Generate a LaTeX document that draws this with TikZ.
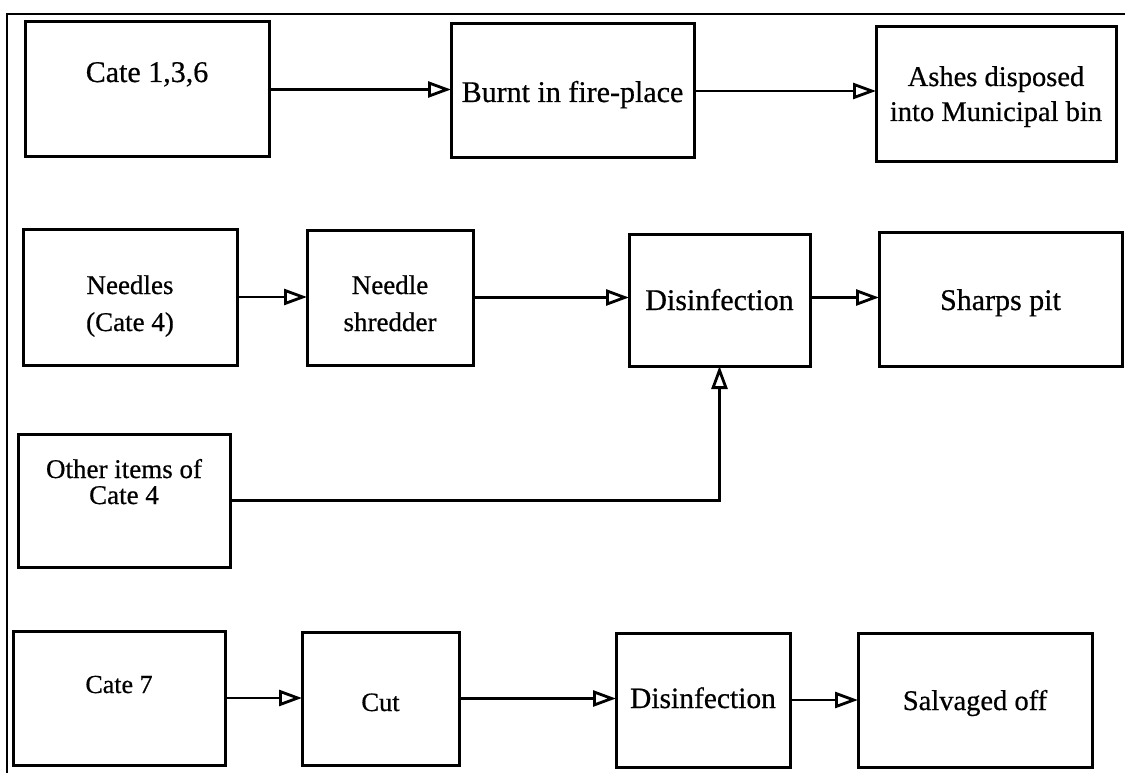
\documentclass[tikz,border=0pt]{standalone}
\usepackage{fontspec}
\setmainfont{Liberation Serif}[FakeBold=0.6]
\usetikzlibrary{arrows.meta}

\newcommand{\fs}[1]{\fontsize{#1}{#1}\selectfont}

\tikzset{
  stage/.style={draw, line width=3pt, rectangle, inner sep=0pt, outer sep=0pt},
  txt/.style={anchor=base, inner sep=0pt, align=center},
  flow/.style={line width=2.5pt, -{Triangle[open, length=23pt, width=16pt, line width=2.8pt]}},
  frameline/.style={line width=1.3pt}
}

\begin{document}
\begin{tikzpicture}[x=1pt, y=-1pt]
\useasboundingbox (0,0) rectangle (1125,773);

% outer frame (only top and left edges show)
\coordinate (frameBL) at (7,773);
\coordinate (frameTL) at (7,14);
\coordinate (frameTR) at (1125,14);
\draw[frameline] (frameBL) -- (frameTL) -- (frameTR);

% ---- row 1: categories 1,3,6
\node[stage, minimum width=244pt, minimum height=135pt] (c136) at (147,89.5) {};
\node[txt, font=\fs{30}] (c136t) at (147,82) {Cate 1,3,6};

\node[stage, minimum width=243pt, minimum height=134pt] (burnt) at (572.5,91) {};
\node[txt, font=\fs{30}] (burntt) at (572.5,102) {Burnt in fire-place};

\node[stage, minimum width=240pt, minimum height=135pt] (ashes) at (996,94.5) {};
\node[txt, font=\fs{28.5}] (ashest1) at (996,86) {Ashes disposed};
\node[txt, font=\fs{28.5}] (ashest2) at (996,121) {into Municipal bin};

% ---- row 2: needles
\node[stage, minimum width=214pt, minimum height=136pt] (needles) at (130,297) {};
\node[txt, font=\fs{27}] (needlest1) at (130,294) {Needles};
\node[txt, font=\fs{27}] (needlest2) at (130,331) {(Cate 4)};

\node[stage, minimum width=166pt, minimum height=135pt] (shred) at (390,297.5) {};
\node[txt, font=\fs{27}] (shredt1) at (390,294) {Needle};
\node[txt, font=\fs{27}] (shredt2) at (390,331) {shredder};

\node[stage, minimum width=181pt, minimum height=132pt] (dis1) at (719.5,300) {};
\node[txt, font=\fs{30}] (dis1t) at (719.5,310) {Disinfection};

\node[stage, minimum width=243pt, minimum height=134pt] (sharps) at (1000.5,299) {};
\node[txt, font=\fs{30}] (sharpst) at (1000.5,310) {Sharps pit};

% ---- row 3: other items of category 4
\node[stage, minimum width=212pt, minimum height=133pt] (other) at (124,500.5) {};
\node[txt, font=\fs{27}] (othert1) at (124,478) {Other items of};
\node[txt, font=\fs{27}] (othert2) at (124,504) {Cate 4};

% ---- row 4: category 7
\node[stage, minimum width=212pt, minimum height=134pt] (cate7) at (119,698) {};
\node[txt, font=\fs{26}] (cate7t) at (119,693) {Cate 7};

\node[stage, minimum width=157pt, minimum height=133pt] (cut) at (380.5,698.5) {};
\node[txt, font=\fs{26.5}] (cutt) at (380.5,711) {Cut};

\node[stage, minimum width=174pt, minimum height=134pt] (dis2) at (703,700) {};
\node[txt, font=\fs{29.5}] (dis2t) at (703,708) {Disinfection};

\node[stage, minimum width=234pt, minimum height=134pt] (salv) at (975,700) {};
\node[txt, font=\fs{28.5}] (salvt) at (975,710) {Salvaged off};

% ---- connectors
\draw[flow] (c136.east) -- (c136.east -| burnt.west);
\draw[flow] (burnt.east) -- (burnt.east -| ashes.west);

\draw[flow] (needles.east) -- (needles.east -| shred.west);
\draw[flow] (shred.east) -- (shred.east -| dis1.west);
\draw[flow] (dis1.east |- shred.east) -- (shred.east -| sharps.west);
\draw[flow] (other.east) -| (dis1.south);

\draw[flow] (cate7.east) -- (cate7.east -| cut.west);
\draw[flow] (cut.east) -- (cut.east -| dis2.west);
\draw[flow] (dis2.east) -- (dis2.east -| salv.west);
\end{tikzpicture}
\end{document}
